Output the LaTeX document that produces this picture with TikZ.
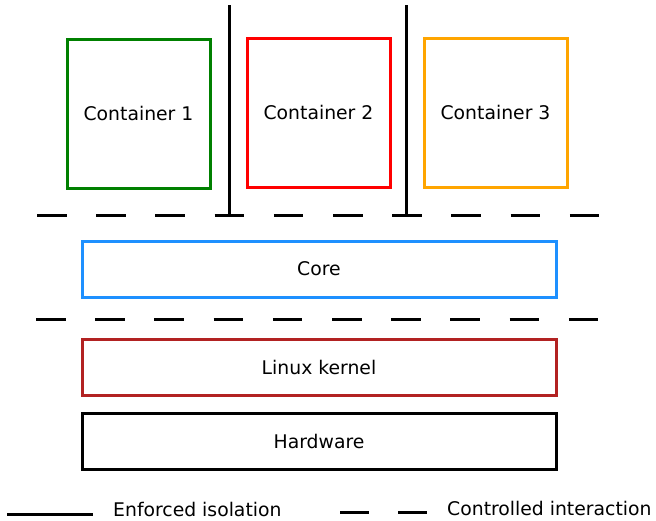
\documentclass[tikz,border=0pt]{standalone}
\usepackage{fontspec}
\setmainfont{DejaVu Sans}
\begin{document}
\begin{tikzpicture}[x=1pt,y=-1pt,
  every node/.style={font=\fontsize{18.8}{22}\selectfont},
  layerbox/.style={draw, line width=3pt, inner sep=0pt},
  ctbox/.style={layerbox, minimum width=143pt, minimum height=149pt},
  wide/.style={layerbox, minimum width=474pt, minimum height=56pt},
  isolation/.style={line width=3pt},
  interaction/.style={line width=3pt, dash pattern=on 29.6pt off 29.6pt},
  legendtext/.style={anchor=base west, inner sep=0pt}]
  \definecolor{ctgreen}{RGB}{0,128,0}
  \definecolor{ctred}{RGB}{255,0,0}
  \definecolor{ctorange}{RGB}{255,165,0}
  \definecolor{coreblue}{RGB}{30,144,255}
  \definecolor{kernelred}{RGB}{178,34,34}
  \useasboundingbox (0,0) rectangle (656,520);

  % containers
  \node[ctbox, draw=ctgreen] (c1) at (138.5,113.5) {Container 1};
  \node[ctbox, draw=ctred] (c2) at (318.5,112.5) {Container 2};
  \node[ctbox, draw=ctorange] (c3) at (495.5,112.5) {Container 3};

  % isolation walls between containers
  \coordinate (w1t) at (229,5);
  \coordinate (w1b) at (229,214);
  \coordinate (w2t) at (406,5);
  \coordinate (w2b) at (406,214);
  \draw[isolation] (w1t) -- (w1b);
  \draw[isolation] (w2t) -- (w2b);

  % interaction boundaries
  \coordinate (d1l) at (37,215);
  \coordinate (d1r) at (600,215);
  \coordinate (d2l) at (36,319);
  \coordinate (d2r) at (599,319);
  \draw[interaction] (d1l) -- (d1r);
  \draw[interaction] (d2l) -- (d2r);

  % layers
  \node[wide, draw=coreblue] (core) at (319,269) {Core};
  \node[wide, draw=kernelred] (kernel) at (319,367) {Linux kernel};
  \node[wide, draw=black] (hw) at (319,441) {Hardware};

  % legend
  \coordinate (l1a) at (7,514);
  \coordinate (l1b) at (93,514);
  \draw[isolation] (l1a) -- (l1b);
  \node[legendtext] (l1t) at (113,516) {Enforced isolation};
  \coordinate (l2a) at (340,512);
  \coordinate (l2b) at (428,512);
  \draw[isolation, dash pattern=on 29pt off 29pt] (l2a) -- (l2b);
  \node[legendtext] (l2t) at (447,515) {Controlled interaction};
\end{tikzpicture}
\end{document}
